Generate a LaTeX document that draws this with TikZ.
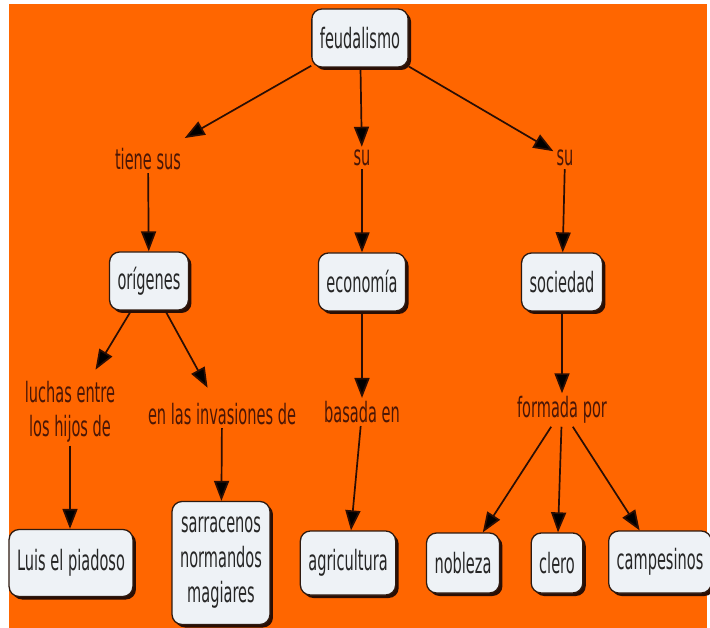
\documentclass[tikz,border=0pt]{standalone}
\usepackage{fontspec}
\setmainfont{DejaVu Sans}[FakeStretch=0.52]
\usepackage{tikz}
\usetikzlibrary{arrows.meta, positioning, shadows}
\definecolor{bgorange}{HTML}{FF6600}
\definecolor{boxfill}{HTML}{EEF2F6}
\definecolor{boxline}{HTML}{2E1A10}
\definecolor{shadowc}{HTML}{2A0E04}
\definecolor{lbltext}{HTML}{4A1606}
\definecolor{boxtext}{HTML}{262626}

\begin{document}
\begin{tikzpicture}[x=1pt, y=-1pt, >={Triangle[length=20pt, width=15pt, fill=black]}]
\tikzstyle{cbox}=[rounded corners=10pt, draw=boxline, line width=1.3pt, fill=boxfill,
  drop shadow={shadow xshift=3pt, shadow yshift=-3pt, fill=shadowc, opacity=1},
  inner xsep=8pt, minimum height=58pt, align=center, text=boxtext,
  font=\fontsize{28}{35}\selectfont]
\tikzstyle{lbl}=[inner sep=3pt, align=center, text=lbltext, font=\fontsize{28}{34}\selectfont]
\tikzstyle{conn}=[draw=shadowc, line width=1.7pt]
    \useasboundingbox (0,0) rectangle (710,628);
    \fill[bgorange] (9,4) rectangle (707,628);

    \node (feud) [cbox] at (360,38) {feudalismo};

    \node (tiene) [lbl] at (148,159) {tiene sus};
    \node (su1) [lbl] at (362,158) {su};
    \node (su2) [lbl] at (565,158) {su};

    \node (orig) [cbox] at (149,281) {orígenes};
    \node (econ) [cbox] at (362,282) {economía};
    \node (soc) [cbox] at (562,282) {sociedad};

    \node (luchas) [lbl] at (70,412) {luchas entre\\los hijos de};
    \node (invas) [lbl] at (222,414) {en las invasiones de};
    \node (basada) [lbl] at (362,412) {basada en};
    \node (formada) [lbl] at (562,410) {formada por};

    \node (luis) [cbox, minimum height=67pt] at (71,563) {Luis el piadoso};
    \node (sarr) [cbox, minimum height=123pt] at (221,563) {sarracenos\\normandos\\magiares};
    \node (agri) [cbox, minimum height=64pt] at (348,563) {agricultura};
    \node (nob) [cbox, minimum height=60pt] at (463,563) {nobleza};
    \node (clero) [cbox, minimum height=60pt] at (557,563) {clero};
    \node (camp) [cbox, minimum height=62pt] at (660,562) {campesinos};

    \draw[conn, ->, shorten >=14pt] (feud) -- (tiene);
    \draw[conn, ->] (feud) -- (su1);
    \draw[conn, ->] (feud) -- (su2);
    \draw[conn, ->] (tiene) -- (orig);
    \draw[conn, ->] (su1) -- (econ);
    \draw[conn, ->] (su2) -- (soc);
    \draw[conn, ->, shorten >=10pt] (orig) -- (luchas);
    \draw[conn, ->, shorten >=14pt] (orig) -- (invas);
    \draw[conn, ->] (econ) -- (basada);
    \draw[conn, ->] (soc) -- (formada);
    \draw[conn, ->] (luchas) -- (luchas |- luis.north);
    \draw[conn, ->] (invas) -- (sarr);
    \draw[conn, ->] (basada) -- (agri);
    \draw[conn, ->] (formada) -- (nob);
    \draw[conn, ->] (formada) -- (clero);
    \draw[conn, ->] (formada) -- (camp);
\end{tikzpicture}
\end{document}
